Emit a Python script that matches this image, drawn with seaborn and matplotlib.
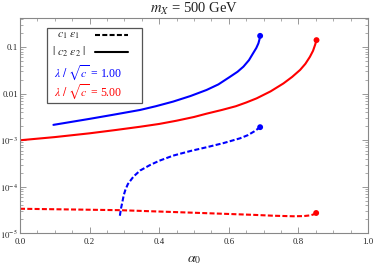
import matplotlib
matplotlib.use("Agg")
import matplotlib.pyplot as plt
import seaborn as sns
import pandas as pd
from matplotlib.patches import Rectangle

# ---- data ----
alpha_blue_solid = [0.096, 0.20, 0.27, 0.345, 0.39, 0.44, 0.49, 0.536, 0.57, 0.603, 0.625,
                    0.642, 0.658, 0.67, 0.679, 0.685, 0.688, 0.69]
val_blue_solid = [2.14e-3, 2.88e-3, 3.55e-3, 4.47e-3, 5.37e-3, 6.76e-3, 8.91e-3, 1.20e-2, 1.58e-2,
                  2.29e-2, 2.95e-2, 3.80e-2, 5.25e-2, 7.41e-2, 9.55e-2, 0.120, 0.145, 0.174]

alpha_red_solid = [0.0, 0.10, 0.20, 0.275, 0.345, 0.40, 0.45, 0.50, 0.536, 0.58, 0.62, 0.65,
                   0.68, 0.72, 0.757, 0.782, 0.805, 0.82, 0.833, 0.842, 0.848, 0.852]
val_red_solid = [1.00e-3, 1.17e-3, 1.41e-3, 1.66e-3, 1.95e-3, 2.24e-3, 2.63e-3, 3.16e-3, 3.72e-3,
                 4.47e-3, 5.37e-3, 6.46e-3, 7.94e-3, 1.12e-2, 1.66e-2, 2.29e-2, 3.24e-2, 4.37e-2,
                 6.17e-2, 8.32e-2, 0.112, 0.141]

alpha_blue_dash = [0.287, 0.290, 0.294, 0.298, 0.303, 0.31, 0.326, 0.345, 0.374, 0.40, 0.44,
                   0.49, 0.536, 0.585, 0.632, 0.655, 0.673, 0.69]
val_blue_dash = [2.40e-5, 3.39e-5, 4.68e-5, 6.61e-5, 8.71e-5, 1.15e-4, 1.66e-4, 2.24e-4, 2.95e-4,
                 3.63e-4, 4.68e-4, 5.89e-4, 7.08e-4, 8.71e-4, 1.10e-3, 1.29e-3, 1.55e-3, 1.91e-3]

alpha_red_dash = [0.0, 0.15, 0.287, 0.38, 0.479, 0.575, 0.67, 0.73, 0.785, 0.815, 0.835, 0.846, 0.851]
val_red_dash = [3.39e-5, 3.27e-5, 3.16e-5, 2.99e-5, 2.82e-5, 2.66e-5, 2.51e-5, 2.40e-5, 2.34e-5,
                2.36e-5, 2.45e-5, 2.60e-5, 2.75e-5]

xticks = [0.0, 0.2, 0.4, 0.6, 0.8, 1.0]
xtick_labels = ["0.0", "0.2", "0.4", "0.6", "0.8", "1.0"]
yticks = [1e-5, 1e-4, 1e-3, 1e-2, 1e-1]
ytick_labels = [r"$10^{-5}$", r"$10^{-4}$", r"$10^{-3}$", "0.01", "0.1"]

title = r"$m_X$ = 500 GeV"
xlabel = r"$\alpha_0$"
legend_rows = [r"$c_1\ \epsilon_1$", r"$|\ c_2\ \epsilon_2\ |$"]
lambda_rows = [r"$\lambda\ /\ \sqrt{c}$ = 1.00", r"$\lambda\ /\ \sqrt{c}$ = 5.00"]

BLUE = (0, 0, 1)
RED = (1, 0, 0)

sns.set_theme(style="ticks")
plt.rcParams["font.family"] = ["Liberation Serif", "DejaVu Serif"]
plt.rcParams["mathtext.fontset"] = "stix"

fig = plt.figure(figsize=(3.74, 2.65), dpi=100)
ax = fig.add_axes([0.0535, 0.119, 0.9305, 0.813])

dash = (0, (2.4, 1.1))
lw = 1.5
sns.lineplot(x=alpha_blue_solid, y=val_blue_solid, color=BLUE, lw=lw, sort=False, estimator=None, ax=ax)
sns.lineplot(x=alpha_red_solid, y=val_red_solid, color=RED, lw=lw, sort=False, estimator=None, ax=ax)
sns.lineplot(x=alpha_blue_dash, y=val_blue_dash, color=BLUE, lw=lw, linestyle=dash, sort=False, estimator=None, ax=ax)
sns.lineplot(x=alpha_red_dash, y=val_red_dash, color=RED, lw=lw, linestyle=dash, sort=False, estimator=None, ax=ax)

ends = pd.DataFrame({
    "x": [alpha_blue_solid[-1], alpha_red_solid[-1], alpha_blue_dash[-1], alpha_red_dash[-1]],
    "y": [val_blue_solid[-1], val_red_solid[-1], val_blue_dash[-1], val_red_dash[-1]],
    "c": ["b", "r", "b", "r"],
})
sns.scatterplot(data=ends, x="x", y="y", hue="c", palette={"b": BLUE, "r": RED},
                s=18, edgecolor="none", legend=False, ax=ax, zorder=5)

ax.set_yscale("log")
ax.set_xlim(0, 1.0)
ax.set_ylim(1e-5, 0.42)
ax.set_xticks(xticks)
ax.set_xticklabels(xtick_labels)
ax.set_yticks(yticks)
ax.set_yticklabels(ytick_labels)
ax.xaxis.set_minor_locator(matplotlib.ticker.MultipleLocator(0.05))
ax.yaxis.set_minor_locator(matplotlib.ticker.LogLocator(base=10, subs=range(2, 10)))
ax.yaxis.set_minor_formatter(matplotlib.ticker.NullFormatter())
ax.tick_params(which="both", direction="in", top=True, right=True, colors="#888888",
               labelcolor="#222222", labelsize=6.3)
ax.tick_params(axis="x", pad=3.5)
ax.tick_params(axis="y", pad=1.5)
ax.tick_params(which="major", length=4, width=0.6)
ax.tick_params(which="minor", length=2, width=0.5)
for sp in ax.spines.values():
    sp.set_visible(True)
    sp.set_color("#888888")
    sp.set_linewidth(0.8)

ax.set_xlabel(xlabel, fontsize=10, labelpad=5, color="#222222")
ax.set_ylabel("")
ax.set_title(title, fontsize=10.5, pad=4, color="#222222")

# legend box
ax.add_patch(Rectangle((0.078, 0.606), 0.272, 0.348, transform=ax.transAxes,
                       facecolor="white", edgecolor="#555555", lw=0.9, zorder=6))
ax.text(0.140, 0.921, legend_rows[0], transform=ax.transAxes, ha="center", va="center",
        fontsize=8.5, zorder=7, color="#222222")
ax.text(0.142, 0.844, legend_rows[1], transform=ax.transAxes, ha="center", va="center",
        fontsize=8.5, zorder=7, color="#222222")
ax.plot([0.216, 0.310], [0.921, 0.921], transform=ax.transAxes, color="black",
        lw=1.5, linestyle=dash, zorder=7)
ax.plot([0.216, 0.310], [0.844, 0.844], transform=ax.transAxes, color="black",
        lw=1.5, zorder=7)
ax.text(0.197, 0.746, lambda_rows[0], transform=ax.transAxes, ha="center", va="center",
        fontsize=8.5, color=BLUE, zorder=7)
ax.text(0.197, 0.661, lambda_rows[1], transform=ax.transAxes, ha="center", va="center",
        fontsize=8.5, color=RED, zorder=7)

fig.savefig("out.png", dpi=100)
